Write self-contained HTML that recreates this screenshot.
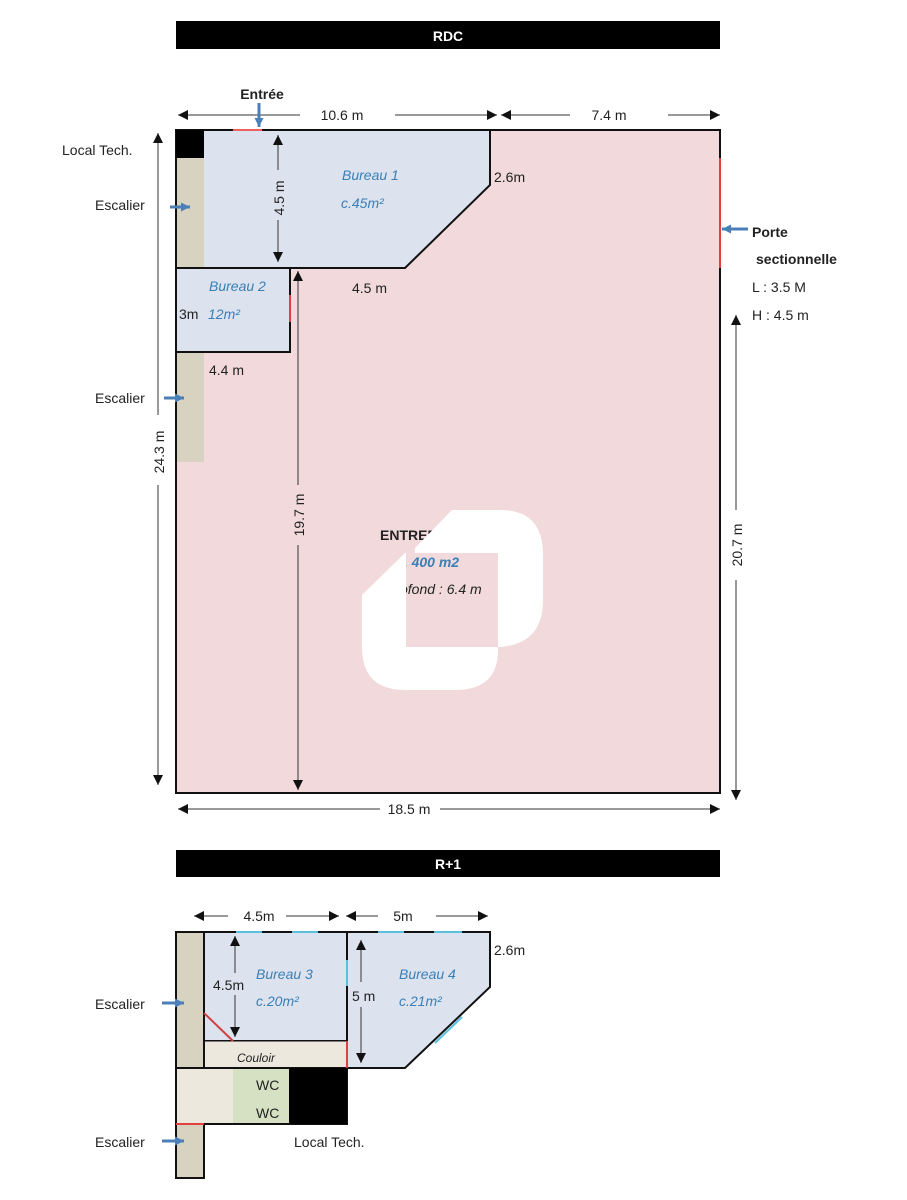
<!DOCTYPE html>
<html><head><meta charset="utf-8"><style>
body{margin:0;background:#fff}
svg{display:block}
text{font-family:"Liberation Sans",sans-serif;font-size:14px;fill:#222}
.b{fill:#3a7fb5;font-style:italic}
.w{fill:#fff;font-weight:bold;font-size:14px}
</style></head><body>
<svg width="907" height="1200" viewBox="0 0 907 1200" xmlns="http://www.w3.org/2000/svg">
<defs>
<marker id="ah" viewBox="0 0 10 10" refX="10" refY="5" markerWidth="10" markerHeight="10" orient="auto-start-reverse"><path d="M0,0 L10,5 L0,10 z" fill="#111"/></marker>
<marker id="ba" viewBox="0 0 10 10" refX="10" refY="5" markerUnits="userSpaceOnUse" markerWidth="9" markerHeight="9" orient="auto"><path d="M0,0 L10,5 L0,10 z" fill="#4a7fb8"/></marker>
<mask id="wm"><rect width="907" height="1200" fill="#000"/>
<path d="M415 548 L452 510 H500 Q543 510 543 555 V600 Q543 645 498 647 H415 Z" fill="#fff"/>
<path d="M362 595 L405 553 H498 V650 Q498 690 455 690 H405 Q362 690 362 647 Z" fill="#fff"/>
<rect x="406" y="553" width="92" height="94" fill="#000"/></mask>
</defs>

<rect x="176" y="21" width="544" height="28" fill="#000"/>
<text x="448" y="41" text-anchor="middle" class="w">RDC</text>

<rect x="176" y="130" width="544" height="663" fill="#f2dadc" stroke="#111" stroke-width="2"/>
<polygon points="176,130 490,130 490,185 405,268 176,268" fill="#dce3ee" stroke="#111" stroke-width="2"/>
<rect x="176" y="130" width="28" height="28" fill="#000"/>
<rect x="177" y="158" width="27" height="110" fill="#d8d2c0"/>
<rect x="177" y="352" width="27" height="110" fill="#d8d2c0"/>
<rect x="176" y="268" width="114" height="84" fill="#dce3ee" stroke="#111" stroke-width="2"/>
<line x1="290" y1="295" x2="290" y2="322" stroke="#e04040" stroke-width="2"/>
<line x1="233" y1="130" x2="262" y2="130" stroke="#f06060" stroke-width="2"/>
<line x1="720" y1="158" x2="720" y2="268" stroke="#e04040" stroke-width="2"/>

<line x1="178" y1="115" x2="300" y2="115" stroke="#333" marker-start="url(#ah)"/>
<line x1="395" y1="115" x2="497" y2="115" stroke="#333" marker-end="url(#ah)"/>
<text x="342" y="120" text-anchor="middle">10.6 m</text>
<line x1="501" y1="115" x2="570" y2="115" stroke="#333" marker-start="url(#ah)"/>
<line x1="668" y1="115" x2="720" y2="115" stroke="#333" marker-end="url(#ah)"/>
<text x="609" y="120" text-anchor="middle">7.4 m</text>
<text x="262" y="99" text-anchor="middle" style="font-weight:bold">Entrée</text>
<line x1="259" y1="103" x2="259" y2="127" stroke="#4a7fb8" stroke-width="3" marker-end="url(#ba)"/>

<text x="62" y="155">Local Tech.</text>
<line x1="158" y1="133" x2="158" y2="785" stroke="#333" marker-start="url(#ah)" marker-end="url(#ah)"/>
<rect x="150" y="415" width="16" height="70" fill="#fff"/>
<text transform="translate(164,452) rotate(-90)" text-anchor="middle">24.3 m</text>
<text x="95" y="210">Escalier</text>
<line x1="170" y1="207" x2="190" y2="207" stroke="#4a7fb8" stroke-width="3" marker-end="url(#ba)"/>
<text x="95" y="403">Escalier</text>
<line x1="164" y1="398" x2="184" y2="398" stroke="#4a7fb8" stroke-width="3" marker-end="url(#ba)"/>

<line x1="278" y1="135" x2="278" y2="262" stroke="#333" marker-start="url(#ah)" marker-end="url(#ah)"/>
<rect x="270" y="170" width="16" height="50" fill="#dce3ee"/>
<text transform="translate(284,198) rotate(-90)" text-anchor="middle">4.5 m</text>
<text x="342" y="180" class="b">Bureau 1</text>
<text x="341" y="208" class="b">c.45m²</text>
<text x="494" y="182">2.6m</text>
<text x="352" y="293">4.5 m</text>
<text x="209" y="291" class="b">Bureau 2</text>
<text x="179" y="319">3m</text>
<text x="208" y="319" class="b">12m²</text>
<text x="209" y="375">4.4 m</text>

<line x1="298" y1="271" x2="298" y2="790" stroke="#333" marker-start="url(#ah)" marker-end="url(#ah)"/>
<rect x="290" y="485" width="16" height="60" fill="#f2dadc"/>
<text transform="translate(304,515) rotate(-90)" text-anchor="middle">19.7 m</text>

<line x1="736" y1="315" x2="736" y2="800" stroke="#333" marker-start="url(#ah)" marker-end="url(#ah)"/>
<rect x="728" y="510" width="16" height="70" fill="#fff"/>
<text transform="translate(742,545) rotate(-90)" text-anchor="middle">20.7 m</text>
<line x1="748" y1="229" x2="722" y2="229" stroke="#4a7fb8" stroke-width="3" marker-end="url(#ba)"/>
<text x="752" y="237" style="font-weight:bold">Porte</text>
<text x="756" y="264" style="font-weight:bold">sectionnelle</text>
<text x="752" y="292">L : 3.5 M</text>
<text x="752" y="320">H : 4.5 m</text>

<line x1="178" y1="809" x2="380" y2="809" stroke="#333" marker-start="url(#ah)"/>
<line x1="440" y1="809" x2="720" y2="809" stroke="#333" marker-end="url(#ah)"/>
<text x="409" y="814" text-anchor="middle">18.5 m</text>

<text x="380" y="540" style="font-weight:bold">ENTREPÔT</text>
<text x="396" y="567" class="b" style="font-weight:bold">c. 400 m2</text>
<text x="386" y="594" style="font-style:italic">Profond : 6.4 m</text>
<rect x="0" y="0" width="907" height="1200" fill="#fff" mask="url(#wm)"/>

<rect x="176" y="850" width="544" height="27" fill="#000"/>
<text x="448" y="869" text-anchor="middle" class="w">R+1</text>

<polygon points="347,932 490,932 490,987 405,1068 347,1068" fill="#dce3ee" stroke="#111" stroke-width="2"/>
<rect x="204" y="932" width="143" height="109" fill="#dce3ee" stroke="#111" stroke-width="2"/>
<rect x="204" y="1041" width="143" height="27" fill="#ece8de" stroke="#111" stroke-width="1"/>
<rect x="176" y="932" width="28" height="246" fill="#d8d2c0" stroke="#111" stroke-width="2"/>
<rect x="176" y="1068" width="171" height="56" fill="#ece8de" stroke="#111" stroke-width="2"/>
<rect x="233" y="1069" width="56" height="54" fill="#d6e0c2"/>
<rect x="289" y="1068" width="58" height="56" fill="#000"/>
<line x1="204" y1="1013" x2="233" y2="1041" stroke="#d04040" stroke-width="2"/>
<line x1="347" y1="1041" x2="347" y2="1068" stroke="#e04040" stroke-width="2"/>
<line x1="176" y1="1124" x2="204" y2="1124" stroke="#e04040" stroke-width="2"/>
<g stroke="#5bc0de" stroke-width="2">
<line x1="236" y1="932" x2="262" y2="932"/><line x1="292" y1="932" x2="318" y2="932"/>
<line x1="378" y1="932" x2="404" y2="932"/><line x1="434" y1="932" x2="462" y2="932"/>
<line x1="347" y1="960" x2="347" y2="986"/><line x1="435" y1="1043" x2="462" y2="1017"/>
</g>

<line x1="194" y1="916" x2="228" y2="916" stroke="#333" marker-start="url(#ah)"/>
<line x1="286" y1="916" x2="339" y2="916" stroke="#333" marker-end="url(#ah)"/>
<text x="259" y="921" text-anchor="middle">4.5m</text>
<line x1="346" y1="916" x2="378" y2="916" stroke="#333" marker-start="url(#ah)"/>
<line x1="436" y1="916" x2="488" y2="916" stroke="#333" marker-end="url(#ah)"/>
<text x="403" y="921" text-anchor="middle">5m</text>
<text x="494" y="955">2.6m</text>

<line x1="235" y1="936" x2="235" y2="1037" stroke="#333" marker-start="url(#ah)" marker-end="url(#ah)"/>
<rect x="212" y="973" width="40" height="22" fill="#dce3ee"/>
<text x="213" y="990">4.5m</text>
<line x1="361" y1="940" x2="361" y2="1063" stroke="#333" marker-start="url(#ah)" marker-end="url(#ah)"/>
<rect x="350" y="982" width="30" height="25" fill="#dce3ee"/>
<text x="352" y="1001">5 m</text>
<text x="256" y="979" class="b">Bureau 3</text>
<text x="256" y="1006" class="b">c.20m²</text>
<text x="399" y="979" class="b">Bureau 4</text>
<text x="399" y="1006" class="b">c.21m²</text>
<text x="237" y="1062" style="font-style:italic;font-size:12px">Couloir</text>
<text x="256" y="1090">WC</text>
<text x="256" y="1118">WC</text>
<text x="294" y="1147">Local Tech.</text>
<text x="95" y="1009">Escalier</text>
<line x1="162" y1="1003" x2="184" y2="1003" stroke="#4a7fb8" stroke-width="3" marker-end="url(#ba)"/>
<text x="95" y="1147">Escalier</text>
<line x1="162" y1="1141" x2="184" y2="1141" stroke="#4a7fb8" stroke-width="3" marker-end="url(#ba)"/>
</svg>
</body></html>
